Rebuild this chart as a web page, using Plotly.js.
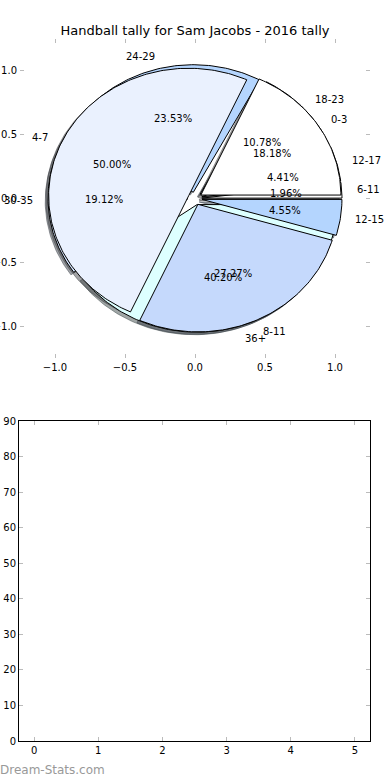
<!DOCTYPE html>
<html><head><meta charset="utf-8">
<script src="https://cdn.plot.ly/plotly-3.0.1.min.js"></script>
<style>html,body{margin:0;padding:0;background:#fff}#chart{width:390px;height:780px}</style>
</head><body><div id="chart"></div>
<script>
const chartTitle = "Handball tally for Sam Jacobs - 2016 tally";
const watermark = "Dream-Stats.com";
// lower pie (drawn first, underneath)
const ageLabels = ["6-11", "12-17", "18-23", "24-29", "30-35", "36+"];
const ageValues = [4, 9, 22, 48, 39, 82];
const ageColors = ["#ffffff", "#eaf1fe", "#c5d9fc", "#b4d5fe", "#d6e6ff", "#ddffff"];
// upper pie (drawn on top)
const yearLabels = ["0-3", "4-7", "8-11", "12-15"];
const yearValues = [4, 11, 6, 1];
const yearColors = ["#ffffff", "#eaf1fe", "#c5d9fc", "#b4d5fe"];
// empty lower panel
const panelXTicks = [0, 1, 2, 3, 4, 5];
const panelYTicks = [0, 10, 20, 30, 40, 50, 60, 70, 80, 90];
const pieTicks = [-1, -0.5, 0, 0.5, 1];

const EXPLODE = 0.05, LABEL_R = 1.1, PCT_R = 0.6, SH = -0.02;
const FONT = "DejaVu Sans";

function buildWedges(values, labels, colors) {
  const total = values.reduce((a, b) => a + b, 0);
  let start = 0;
  return values.map((v, i) => {
    const t1 = start, t2 = start + 360 * v / total;
    start = t2;
    const mid = (t1 + t2) / 2 * Math.PI / 180;
    const cx = EXPLODE * Math.cos(mid), cy = EXPLODE * Math.sin(mid);
    const xs = [cx], ys = [cy];
    const n = Math.max(4, Math.ceil((t2 - t1) / 1));
    for (let k = 0; k <= n; k++) {
      const a = (t1 + (t2 - t1) * k / n) * Math.PI / 180;
      xs.push(cx + Math.cos(a)); ys.push(cy + Math.sin(a));
    }
    xs.push(cx); ys.push(cy);
    return {xs, ys, color: colors[i], label: labels[i],
      pct: (100 * v / total).toFixed(2) + "%",
      lx: cx + LABEL_R * Math.cos(mid), ly: cy + LABEL_R * Math.sin(mid),
      px: cx + PCT_R * Math.cos(mid), py: cy + PCT_R * Math.sin(mid)};
  });
}

const agesW = buildWedges(ageValues, ageLabels, ageColors);
const yearsW = buildWedges(yearValues, yearLabels, yearColors);

function shadowColor(hex) {
  const r = parseInt(hex.slice(1, 3), 16), g = parseInt(hex.slice(3, 5), 16), b = parseInt(hex.slice(5, 7), 16);
  return `rgba(${Math.round(r * 0.3)},${Math.round(g * 0.3)},${Math.round(b * 0.3)},0.5)`;
}

const traces = [];
[agesW, yearsW].forEach(ws => ws.forEach(w => {
  const c = shadowColor(w.color);
  traces.push({type: "scatter", mode: "lines", x: w.xs.map(x => x + SH), y: w.ys.map(y => y + SH),
    fill: "toself", fillcolor: c, line: {color: c, width: 1}, hoverinfo: "skip", showlegend: false,
    xaxis: "x", yaxis: "y"});
}));
[agesW, yearsW].forEach(ws => ws.forEach(w => {
  traces.push({type: "scatter", mode: "lines", x: w.xs, y: w.ys,
    fill: "toself", fillcolor: w.color, line: {color: "#000000", width: 1}, hoverinfo: "skip",
    showlegend: false, xaxis: "x", yaxis: "y"});
}));
traces.push({type: "scatter", mode: "markers", x: [], y: [], xaxis: "x2", yaxis: "y2", showlegend: false});

const annotations = [];
[agesW, yearsW].forEach(ws => ws.forEach(w => {
  annotations.push({xref: "x", yref: "y", x: w.lx, y: w.ly, text: w.label, showarrow: false,
    xanchor: w.lx > 0 ? "left" : "right", yanchor: "middle", borderpad: 0,
    font: {family: FONT, size: 10, color: "#000"}});
  annotations.push({xref: "x", yref: "y", x: w.px, y: w.py, text: w.pct, showarrow: false,
    xanchor: "center", yanchor: "middle", borderpad: 0,
    font: {family: FONT, size: 10, color: "#000"}});
}));
annotations.push({xref: "paper", yref: "paper", x: 0, y: 1 - 770 / 780, xshift: -2, text: watermark,
  showarrow: false, xanchor: "left", yanchor: "middle", font: {family: FONT, size: 12, color: "#999999"}});

const tickFont = {family: FONT, size: 10, color: "#000"};
const layout = {
  width: 390, height: 780, margin: {l: 0, r: 0, t: 0, b: 0},
  paper_bgcolor: "#ffffff", plot_bgcolor: "rgba(0,0,0,0)",
  title: {text: chartTitle, x: 0.5, xanchor: "center", y: 1 - 30 / 780, yanchor: "middle",
    xref: "paper", yref: "paper", font: {family: FONT, size: 13, color: "#000"}},
  xaxis: {domain: [20 / 390, 370 / 390], range: [-1.25, 1.25], tickvals: pieTicks, tickformat: ".1f",
    ticks: "inside", ticklen: 4, tickcolor: "#bbbbbb", tickwidth: 1, showline: true,
    linecolor: "rgba(0,0,0,0)", mirror: "ticks", showgrid: false, zeroline: false, tickfont: tickFont,
    anchor: "y", fixedrange: true},
  yaxis: {domain: [1 - 358 / 780, 1 - 39 / 780], range: [-1.25, 1.25], tickvals: pieTicks, tickformat: ".1f",
    ticks: "inside", ticklen: 4, tickcolor: "#bbbbbb", tickwidth: 1, showline: true,
    linecolor: "rgba(0,0,0,0)", mirror: "ticks", showgrid: false, zeroline: false, tickfont: tickFont,
    anchor: "x", fixedrange: true},
  xaxis2: {domain: [19 / 390, 370 / 390], range: [-0.235, 5.235], tickvals: panelXTicks,
    ticks: "inside", ticklen: 4, tickcolor: "#bbbbbb", tickwidth: 1, showline: true, linecolor: "#000",
    linewidth: 1, mirror: "ticks", showgrid: false, zeroline: false, tickfont: tickFont, anchor: "y2",
    fixedrange: true},
  yaxis2: {domain: [1 - 741 / 780, 1 - 421 / 780], range: [0, 90], tickvals: panelYTicks,
    ticks: "inside", ticklen: 4, tickcolor: "#bbbbbb", tickwidth: 1, showline: true, linecolor: "#000",
    linewidth: 1, mirror: "ticks", showgrid: false, zeroline: false, tickfont: tickFont, anchor: "x2",
    fixedrange: true},
  annotations: annotations,
  showlegend: false
};
Plotly.newPlot("chart", traces, layout, {displayModeBar: false, staticPlot: true});
</script>
</body></html>
